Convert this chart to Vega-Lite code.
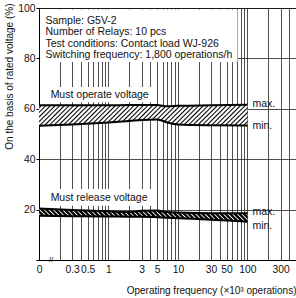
{
  "$schema": "https://vega.github.io/schema/vega-lite/v6.json",
  "width": 257,
  "height": 252,
  "autosize": {"type": "none"},
  "padding": {"left": 39, "top": 8, "right": 0, "bottom": 38},
  "config": {"font": "Liberation Sans", "view": {"stroke": "#000", "strokeWidth": 1}},
  "datasets": {
    "bands": [
      {"band": "operate", "f": 0.1, "max": 61.4, "min": 53.3},
      {"band": "operate", "f": 0.3, "max": 61.4, "min": 53.8},
      {"band": "operate", "f": 1, "max": 61.4, "min": 54.6},
      {"band": "operate", "f": 2, "max": 61.5, "min": 55.2},
      {"band": "operate", "f": 3, "max": 61.5, "min": 55.6},
      {"band": "operate", "f": 5, "max": 61.5, "min": 55.8},
      {"band": "operate", "f": 7, "max": 61.0, "min": 54.6},
      {"band": "operate", "f": 10, "max": 61.2, "min": 53.8},
      {"band": "operate", "f": 30, "max": 61.4, "min": 53.5},
      {"band": "operate", "f": 100, "max": 61.6, "min": 53.4},
      {"band": "release", "f": 0.1, "max": 20.4, "min": 17.6},
      {"band": "release", "f": 0.3, "max": 19.8, "min": 17.4},
      {"band": "release", "f": 1, "max": 19.3, "min": 17.3},
      {"band": "release", "f": 2, "max": 19.0, "min": 17.2},
      {"band": "release", "f": 3, "max": 19.5, "min": 17.2},
      {"band": "release", "f": 5, "max": 19.6, "min": 17.0},
      {"band": "release", "f": 7, "max": 19.0, "min": 16.8},
      {"band": "release", "f": 10, "max": 18.8, "min": 16.6},
      {"band": "release", "f": 30, "max": 18.6, "min": 16.0},
      {"band": "release", "f": 100, "max": 18.6, "min": 15.2}
    ],
    "boxes": [
      {"x1": 0.104, "x2": 72, "y1": 78.6, "y2": 99.4},
      {"x1": 0.13, "x2": 4.1, "y1": 62.6, "y2": 68.7},
      {"x1": 0.13, "x2": 4.1, "y1": 21.5, "y2": 28.2}
    ],
    "notes": [
      {"t": "Sample: G5V-2", "x": 0.124, "y": 94.8},
      {"t": "Number of Relays: 10 pcs", "x": 0.124, "y": 90.3},
      {"t": "Test conditions: Contact load WJ-926", "x": 0.124, "y": 85.9},
      {"t": "Switching frequency: 1,800 operations/h", "x": 0.124, "y": 81.3}
    ],
    "labels": [
      {"t": "Must operate voltage", "x": 0.147, "y": 65.5},
      {"t": "Must release voltage", "x": 0.147, "y": 24.6},
      {"t": "max.", "x": 118, "y": 61.9},
      {"t": "min.", "x": 118, "y": 53.0},
      {"t": "max.", "x": 118, "y": 19.0},
      {"t": "min.", "x": 118, "y": 13.4}
    ],
    "brk": [{"t": "//", "x": 0.149, "y": 0}]
  },
  "layer": [
    {
      "data": {"name": "boxes"},
      "mark": {"type": "rect", "fill": "#fff"},
      "encoding": {
        "x": {
          "field": "x1", "type": "quantitative",
          "scale": {"type": "log", "domain": [0.1, 500], "nice": false},
          "axis": {
            "values": [0.1, 0.2, 0.3, 0.4, 0.5, 0.6, 0.7, 0.8, 0.9, 1, 2, 3, 4, 5, 6, 7, 8, 9, 10, 20, 30, 40, 50, 60, 70, 80, 90, 100, 200, 300, 400, 500],
            "grid": true, "gridColor": "#222", "gridWidth": 0.8,
            "ticks": false, "domainColor": "#000",
            "labelExpr": "datum.value < 0.15 ? '0' : (indexof([0.3,0.5,1,3,5,10,30,50,100,300], datum.value) >= 0 ? format(datum.value, '~g') : '')",
            "labelFontSize": 10.3, "labelColor": "#111", "labelPadding": 4,
            "labelFlush": false, "labelOverlap": false,
            "title": "Operating frequency (×10³ operations)",
            "titleAnchor": "end", "titleFontWeight": "normal", "titleFontSize": 10,
            "titleColor": "#111", "titlePadding": 11
          }
        },
        "x2": {"field": "x2"},
        "y": {
          "field": "y1", "type": "quantitative",
          "scale": {"domain": [0, 100], "nice": false},
          "axis": {
            "values": [0, 20, 40, 60, 80, 100],
            "grid": true, "gridColor": "#222", "gridWidth": 0.8,
            "tickSize": 3, "tickColor": "#000", "domainColor": "#000",
            "labelPadding": 1, "labelFontSize": 10.3, "labelColor": "#111",
            "labelExpr": "datum.value == 0 ? '' : datum.label",
            "title": "On the basis of rated voltage (%)",
            "titleAnchor": "end", "titleFontWeight": "normal", "titleFontSize": 10,
            "titleColor": "#111", "titlePadding": 3, "titleY": -5
          }
        },
        "y2": {"field": "y2"}
      }
    },
    {
      "data": {"name": "bands"},
      "transform": [{"filter": "datum.band == 'operate'"}],
      "mark": {
        "type": "area", "interpolate": "monotone",
        "fill": {
          "gradient": "linear", "x1": 0, "y1": 0, "x2": 1.1, "y2": 0.111,
          "stops": [
            {"offset": 0, "color": "white"}, {"offset": 0.007, "color": "white"}, {"offset": 0.0135, "color": "black"},
            {"offset": 0.02, "color": "white"}, {"offset": 0.027, "color": "white"}, {"offset": 0.0335, "color": "black"},
            {"offset": 0.04, "color": "white"}, {"offset": 0.047, "color": "white"}, {"offset": 0.0535, "color": "black"},
            {"offset": 0.06, "color": "white"}, {"offset": 0.067, "color": "white"}, {"offset": 0.0735, "color": "black"},
            {"offset": 0.08, "color": "white"}, {"offset": 0.087, "color": "white"}, {"offset": 0.0935, "color": "black"},
            {"offset": 0.1, "color": "white"}, {"offset": 0.107, "color": "white"}, {"offset": 0.1135, "color": "black"},
            {"offset": 0.12, "color": "white"}, {"offset": 0.127, "color": "white"}, {"offset": 0.1335, "color": "black"},
            {"offset": 0.14, "color": "white"}, {"offset": 0.147, "color": "white"}, {"offset": 0.1535, "color": "black"},
            {"offset": 0.16, "color": "white"}, {"offset": 0.167, "color": "white"}, {"offset": 0.1735, "color": "black"},
            {"offset": 0.18, "color": "white"}, {"offset": 0.187, "color": "white"}, {"offset": 0.1935, "color": "black"},
            {"offset": 0.2, "color": "white"}, {"offset": 0.207, "color": "white"}, {"offset": 0.2135, "color": "black"},
            {"offset": 0.22, "color": "white"}, {"offset": 0.227, "color": "white"}, {"offset": 0.2335, "color": "black"},
            {"offset": 0.24, "color": "white"}, {"offset": 0.247, "color": "white"}, {"offset": 0.2535, "color": "black"},
            {"offset": 0.26, "color": "white"}, {"offset": 0.267, "color": "white"}, {"offset": 0.2735, "color": "black"},
            {"offset": 0.28, "color": "white"}, {"offset": 0.287, "color": "white"}, {"offset": 0.2935, "color": "black"},
            {"offset": 0.3, "color": "white"}, {"offset": 0.307, "color": "white"}, {"offset": 0.3135, "color": "black"},
            {"offset": 0.32, "color": "white"}, {"offset": 0.327, "color": "white"}, {"offset": 0.3335, "color": "black"},
            {"offset": 0.34, "color": "white"}, {"offset": 0.347, "color": "white"}, {"offset": 0.3535, "color": "black"},
            {"offset": 0.36, "color": "white"}, {"offset": 0.367, "color": "white"}, {"offset": 0.3735, "color": "black"},
            {"offset": 0.38, "color": "white"}, {"offset": 0.387, "color": "white"}, {"offset": 0.3935, "color": "black"},
            {"offset": 0.4, "color": "white"}, {"offset": 0.407, "color": "white"}, {"offset": 0.4135, "color": "black"},
            {"offset": 0.42, "color": "white"}, {"offset": 0.427, "color": "white"}, {"offset": 0.4335, "color": "black"},
            {"offset": 0.44, "color": "white"}, {"offset": 0.447, "color": "white"}, {"offset": 0.4535, "color": "black"},
            {"offset": 0.46, "color": "white"}, {"offset": 0.467, "color": "white"}, {"offset": 0.4735, "color": "black"},
            {"offset": 0.48, "color": "white"}, {"offset": 0.487, "color": "white"}, {"offset": 0.4935, "color": "black"},
            {"offset": 0.5, "color": "white"}, {"offset": 0.507, "color": "white"}, {"offset": 0.5135, "color": "black"},
            {"offset": 0.52, "color": "white"}, {"offset": 0.527, "color": "white"}, {"offset": 0.5335, "color": "black"},
            {"offset": 0.54, "color": "white"}, {"offset": 0.547, "color": "white"}, {"offset": 0.5535, "color": "black"},
            {"offset": 0.56, "color": "white"}, {"offset": 0.567, "color": "white"}, {"offset": 0.5735, "color": "black"},
            {"offset": 0.58, "color": "white"}, {"offset": 0.587, "color": "white"}, {"offset": 0.5935, "color": "black"},
            {"offset": 0.6, "color": "white"}, {"offset": 0.607, "color": "white"}, {"offset": 0.6135, "color": "black"},
            {"offset": 0.62, "color": "white"}, {"offset": 0.627, "color": "white"}, {"offset": 0.6335, "color": "black"},
            {"offset": 0.64, "color": "white"}, {"offset": 0.647, "color": "white"}, {"offset": 0.6535, "color": "black"},
            {"offset": 0.66, "color": "white"}, {"offset": 0.667, "color": "white"}, {"offset": 0.6735, "color": "black"},
            {"offset": 0.68, "color": "white"}, {"offset": 0.687, "color": "white"}, {"offset": 0.6935, "color": "black"},
            {"offset": 0.7, "color": "white"}, {"offset": 0.707, "color": "white"}, {"offset": 0.7135, "color": "black"},
            {"offset": 0.72, "color": "white"}, {"offset": 0.727, "color": "white"}, {"offset": 0.7335, "color": "black"},
            {"offset": 0.74, "color": "white"}, {"offset": 0.747, "color": "white"}, {"offset": 0.7535, "color": "black"},
            {"offset": 0.76, "color": "white"}, {"offset": 0.767, "color": "white"}, {"offset": 0.7735, "color": "black"},
            {"offset": 0.78, "color": "white"}, {"offset": 0.787, "color": "white"}, {"offset": 0.7935, "color": "black"},
            {"offset": 0.8, "color": "white"}, {"offset": 0.807, "color": "white"}, {"offset": 0.8135, "color": "black"},
            {"offset": 0.82, "color": "white"}, {"offset": 0.827, "color": "white"}, {"offset": 0.8335, "color": "black"},
            {"offset": 0.84, "color": "white"}, {"offset": 0.847, "color": "white"}, {"offset": 0.8535, "color": "black"},
            {"offset": 0.86, "color": "white"}, {"offset": 0.867, "color": "white"}, {"offset": 0.8735, "color": "black"},
            {"offset": 0.88, "color": "white"}, {"offset": 0.887, "color": "white"}, {"offset": 0.8935, "color": "black"},
            {"offset": 0.9, "color": "white"}, {"offset": 0.907, "color": "white"}, {"offset": 0.9135, "color": "black"},
            {"offset": 0.92, "color": "white"}, {"offset": 0.927, "color": "white"}, {"offset": 0.9335, "color": "black"},
            {"offset": 0.94, "color": "white"}, {"offset": 0.947, "color": "white"}, {"offset": 0.9535, "color": "black"},
            {"offset": 0.96, "color": "white"}, {"offset": 0.967, "color": "white"}, {"offset": 0.9735, "color": "black"},
            {"offset": 0.98, "color": "white"}, {"offset": 0.987, "color": "white"}, {"offset": 0.9935, "color": "black"},
            {"offset": 1, "color": "white"}
          ]
        }
      },
      "encoding": {
        "x": {"field": "f", "type": "quantitative"},
        "y": {"field": "max", "type": "quantitative"},
        "y2": {"field": "min"}
      }
    },
    {
      "data": {"name": "bands"},
      "transform": [{"filter": "datum.band == 'release'"}],
      "mark": {
        "type": "area", "interpolate": "monotone",
        "fill": {
          "gradient": "linear", "x1": 0, "y1": 1, "x2": 1.1, "y2": 0.931,
          "stops": [
            {"offset": 0, "color": "black"}, {"offset": 0.009, "color": "black"}, {"offset": 0.0145, "color": "white"},
            {"offset": 0.02, "color": "black"}, {"offset": 0.029, "color": "black"}, {"offset": 0.0345, "color": "white"},
            {"offset": 0.04, "color": "black"}, {"offset": 0.049, "color": "black"}, {"offset": 0.0545, "color": "white"},
            {"offset": 0.06, "color": "black"}, {"offset": 0.069, "color": "black"}, {"offset": 0.0745, "color": "white"},
            {"offset": 0.08, "color": "black"}, {"offset": 0.089, "color": "black"}, {"offset": 0.0945, "color": "white"},
            {"offset": 0.1, "color": "black"}, {"offset": 0.109, "color": "black"}, {"offset": 0.1145, "color": "white"},
            {"offset": 0.12, "color": "black"}, {"offset": 0.129, "color": "black"}, {"offset": 0.1345, "color": "white"},
            {"offset": 0.14, "color": "black"}, {"offset": 0.149, "color": "black"}, {"offset": 0.1545, "color": "white"},
            {"offset": 0.16, "color": "black"}, {"offset": 0.169, "color": "black"}, {"offset": 0.1745, "color": "white"},
            {"offset": 0.18, "color": "black"}, {"offset": 0.189, "color": "black"}, {"offset": 0.1945, "color": "white"},
            {"offset": 0.2, "color": "black"}, {"offset": 0.209, "color": "black"}, {"offset": 0.2145, "color": "white"},
            {"offset": 0.22, "color": "black"}, {"offset": 0.229, "color": "black"}, {"offset": 0.2345, "color": "white"},
            {"offset": 0.24, "color": "black"}, {"offset": 0.249, "color": "black"}, {"offset": 0.2545, "color": "white"},
            {"offset": 0.26, "color": "black"}, {"offset": 0.269, "color": "black"}, {"offset": 0.2745, "color": "white"},
            {"offset": 0.28, "color": "black"}, {"offset": 0.289, "color": "black"}, {"offset": 0.2945, "color": "white"},
            {"offset": 0.3, "color": "black"}, {"offset": 0.309, "color": "black"}, {"offset": 0.3145, "color": "white"},
            {"offset": 0.32, "color": "black"}, {"offset": 0.329, "color": "black"}, {"offset": 0.3345, "color": "white"},
            {"offset": 0.34, "color": "black"}, {"offset": 0.349, "color": "black"}, {"offset": 0.3545, "color": "white"},
            {"offset": 0.36, "color": "black"}, {"offset": 0.369, "color": "black"}, {"offset": 0.3745, "color": "white"},
            {"offset": 0.38, "color": "black"}, {"offset": 0.389, "color": "black"}, {"offset": 0.3945, "color": "white"},
            {"offset": 0.4, "color": "black"}, {"offset": 0.409, "color": "black"}, {"offset": 0.4145, "color": "white"},
            {"offset": 0.42, "color": "black"}, {"offset": 0.429, "color": "black"}, {"offset": 0.4345, "color": "white"},
            {"offset": 0.44, "color": "black"}, {"offset": 0.449, "color": "black"}, {"offset": 0.4545, "color": "white"},
            {"offset": 0.46, "color": "black"}, {"offset": 0.469, "color": "black"}, {"offset": 0.4745, "color": "white"},
            {"offset": 0.48, "color": "black"}, {"offset": 0.489, "color": "black"}, {"offset": 0.4945, "color": "white"},
            {"offset": 0.5, "color": "black"}, {"offset": 0.509, "color": "black"}, {"offset": 0.5145, "color": "white"},
            {"offset": 0.52, "color": "black"}, {"offset": 0.529, "color": "black"}, {"offset": 0.5345, "color": "white"},
            {"offset": 0.54, "color": "black"}, {"offset": 0.549, "color": "black"}, {"offset": 0.5545, "color": "white"},
            {"offset": 0.56, "color": "black"}, {"offset": 0.569, "color": "black"}, {"offset": 0.5745, "color": "white"},
            {"offset": 0.58, "color": "black"}, {"offset": 0.589, "color": "black"}, {"offset": 0.5945, "color": "white"},
            {"offset": 0.6, "color": "black"}, {"offset": 0.609, "color": "black"}, {"offset": 0.6145, "color": "white"},
            {"offset": 0.62, "color": "black"}, {"offset": 0.629, "color": "black"}, {"offset": 0.6345, "color": "white"},
            {"offset": 0.64, "color": "black"}, {"offset": 0.649, "color": "black"}, {"offset": 0.6545, "color": "white"},
            {"offset": 0.66, "color": "black"}, {"offset": 0.669, "color": "black"}, {"offset": 0.6745, "color": "white"},
            {"offset": 0.68, "color": "black"}, {"offset": 0.689, "color": "black"}, {"offset": 0.6945, "color": "white"},
            {"offset": 0.7, "color": "black"}, {"offset": 0.709, "color": "black"}, {"offset": 0.7145, "color": "white"},
            {"offset": 0.72, "color": "black"}, {"offset": 0.729, "color": "black"}, {"offset": 0.7345, "color": "white"},
            {"offset": 0.74, "color": "black"}, {"offset": 0.749, "color": "black"}, {"offset": 0.7545, "color": "white"},
            {"offset": 0.76, "color": "black"}, {"offset": 0.769, "color": "black"}, {"offset": 0.7745, "color": "white"},
            {"offset": 0.78, "color": "black"}, {"offset": 0.789, "color": "black"}, {"offset": 0.7945, "color": "white"},
            {"offset": 0.8, "color": "black"}, {"offset": 0.809, "color": "black"}, {"offset": 0.8145, "color": "white"},
            {"offset": 0.82, "color": "black"}, {"offset": 0.829, "color": "black"}, {"offset": 0.8345, "color": "white"},
            {"offset": 0.84, "color": "black"}, {"offset": 0.849, "color": "black"}, {"offset": 0.8545, "color": "white"},
            {"offset": 0.86, "color": "black"}, {"offset": 0.869, "color": "black"}, {"offset": 0.8745, "color": "white"},
            {"offset": 0.88, "color": "black"}, {"offset": 0.889, "color": "black"}, {"offset": 0.8945, "color": "white"},
            {"offset": 0.9, "color": "black"}, {"offset": 0.909, "color": "black"}, {"offset": 0.9145, "color": "white"},
            {"offset": 0.92, "color": "black"}, {"offset": 0.929, "color": "black"}, {"offset": 0.9345, "color": "white"},
            {"offset": 0.94, "color": "black"}, {"offset": 0.949, "color": "black"}, {"offset": 0.9545, "color": "white"},
            {"offset": 0.96, "color": "black"}, {"offset": 0.969, "color": "black"}, {"offset": 0.9745, "color": "white"},
            {"offset": 0.98, "color": "black"}, {"offset": 0.989, "color": "black"}, {"offset": 0.9945, "color": "white"},
            {"offset": 1, "color": "black"}
          ]
        }
      },
      "encoding": {
        "x": {"field": "f", "type": "quantitative"},
        "y": {"field": "max", "type": "quantitative"},
        "y2": {"field": "min"}
      }
    },
    {
      "data": {"name": "bands"},
      "mark": {"type": "line", "color": "#000", "strokeWidth": 2, "interpolate": "monotone"},
      "encoding": {
        "x": {"field": "f", "type": "quantitative"},
        "y": {"field": "max", "type": "quantitative"},
        "detail": {"field": "band"}
      }
    },
    {
      "data": {"name": "bands"},
      "mark": {"type": "line", "color": "#000", "strokeWidth": 2, "interpolate": "monotone"},
      "encoding": {
        "x": {"field": "f", "type": "quantitative"},
        "y": {"field": "min", "type": "quantitative"},
        "detail": {"field": "band"}
      }
    },
    {
      "data": {"name": "notes"},
      "mark": {"type": "text", "align": "left", "baseline": "middle", "fontSize": 10.5, "color": "#111"},
      "encoding": {
        "x": {"field": "x", "type": "quantitative"},
        "y": {"field": "y", "type": "quantitative"},
        "text": {"field": "t"}
      }
    },
    {
      "data": {"name": "labels"},
      "mark": {"type": "text", "align": "left", "baseline": "middle", "fontSize": 10.5, "color": "#111"},
      "encoding": {
        "x": {"field": "x", "type": "quantitative"},
        "y": {"field": "y", "type": "quantitative"},
        "text": {"field": "t"}
      }
    },
    {
      "data": {"name": "brk"},
      "mark": {"type": "text", "align": "center", "baseline": "middle", "fontSize": 8, "color": "#000"},
      "encoding": {
        "x": {"field": "x", "type": "quantitative"},
        "y": {"field": "y", "type": "quantitative"},
        "text": {"field": "t"}
      }
    }
  ]
}
